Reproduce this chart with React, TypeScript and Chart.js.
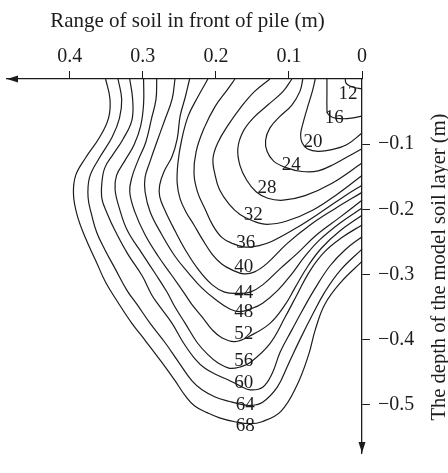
import React, { useEffect, useRef } from 'react';
import { Chart, registerables } from 'chart.js';

Chart.register(...registerables);

const FONT = '"Liberation Serif", "Times New Roman", serif';
const INK = '#1c1c1c';

// Axis ticks
const xTickValues = [0, 0.1, 0.2, 0.3, 0.4];
const xTickLabels = ['0', '0.1', '0.2', '0.3', '0.4'];
const yTickValues = [-0.1, -0.2, -0.3, -0.4, -0.5];
const yTickLabels = ['\u22120.1', '\u22120.2', '\u22120.3', '\u22120.4', '\u22120.5'];
const xAxisMax = 0.486;
const yAxisMin = -0.574;

const xTitle = 'Range of soil in front of pile (m)';
const yTitle = 'The depth of the model soil layer (m)';

// Contour levels
const contourLevels = [12, 16, 20, 24, 28, 32, 36, 40, 44, 48, 52, 56, 60, 64, 68];

// Contour lines (x = range in front of pile, y = depth), in metres
const x12 = [0.023, 0.022, 0.018, 0.011, 0];
const y12 = [0, -0.006, -0.010, -0.013, -0.015];

const x16 = [0.048, 0.048, 0.048, 0.047, 0.040, 0.027, 0.014, 0];
const y16 = [0, -0.023, -0.042, -0.053, -0.059, -0.061, -0.060, -0.057];

const x20 = [0.064, 0.068, 0.075, 0.081, 0.084, 0.082, 0.075, 0.060, 0.040, 0.021, 0];
const y20 = [0, -0.019, -0.045, -0.069, -0.085, -0.098, -0.107, -0.111, -0.108, -0.101, -0.083];

const x24 = [0.081, 0.085, 0.096, 0.112, 0.126, 0.132, 0.130, 0.121, 0.104, 0.082, 0.060, 0.037, 0.016, 0];
const y24 = [0, -0.019, -0.040, -0.057, -0.075, -0.094, -0.111, -0.126, -0.136, -0.142, -0.141, -0.130, -0.117, -0.107];

const x28 = [0.096, 0.108, 0.129, 0.149, 0.163, 0.170, 0.167, 0.158, 0.145, 0.129, 0.108, 0.078, 0.041, 0];
const y28 = [0, -0.019, -0.040, -0.060, -0.081, -0.107, -0.133, -0.155, -0.173, -0.183, -0.186, -0.179, -0.160, -0.129];

const x32 = [0.126, 0.147, 0.167, 0.184, 0.197, 0.204, 0.201, 0.195, 0.182, 0.167, 0.149, 0.130, 0.103, 0.067, 0.033, 0];
const y32 = [0, -0.019, -0.045, -0.072, -0.097, -0.122, -0.148, -0.170, -0.192, -0.208, -0.218, -0.223, -0.218, -0.201, -0.176, -0.148];

const x36 = [0.174, 0.184, 0.201, 0.216, 0.227, 0.230, 0.225, 0.215, 0.204, 0.192, 0.178, 0.160, 0.142, 0.123, 0.089, 0.053, 0.023, 0];
const y36 = [0, -0.016, -0.042, -0.075, -0.111, -0.145, -0.174, -0.199, -0.225, -0.243, -0.252, -0.258, -0.256, -0.249, -0.228, -0.202, -0.179, -0.163];

const x40 = [0.211, 0.225, 0.238, 0.247, 0.252, 0.253, 0.249, 0.241, 0.230, 0.218, 0.205, 0.192, 0.178, 0.162, 0.147, 0.130, 0.103, 0.071, 0.037, 0];
const y40 = [0, -0.028, -0.057, -0.094, -0.129, -0.160, -0.184, -0.204, -0.224, -0.247, -0.269, -0.284, -0.293, -0.299, -0.296, -0.283, -0.253, -0.224, -0.199, -0.174];

const x44 = [0.236, 0.242, 0.249, 0.253, 0.260, 0.271, 0.277, 0.277, 0.270, 0.256, 0.242, 0.225, 0.205, 0.188, 0.170, 0.153, 0.136, 0.112, 0.089, 0.062, 0.030, 0];
const y44 = [0, -0.028, -0.057, -0.092, -0.119, -0.142, -0.163, -0.180, -0.201, -0.233, -0.262, -0.291, -0.316, -0.327, -0.329, -0.327, -0.316, -0.291, -0.268, -0.239, -0.212, -0.186];

const x48 = [0.256, 0.260, 0.270, 0.281, 0.290, 0.297, 0.297, 0.290, 0.274, 0.256, 0.238, 0.219, 0.201, 0.181, 0.167, 0.153, 0.136, 0.115, 0.096, 0.078, 0.058, 0.030, 0];
const y48 = [0, -0.031, -0.063, -0.097, -0.126, -0.151, -0.173, -0.204, -0.239, -0.272, -0.297, -0.321, -0.338, -0.353, -0.357, -0.353, -0.344, -0.324, -0.299, -0.272, -0.247, -0.221, -0.198];

const x52 = [0.281, 0.282, 0.288, 0.296, 0.307, 0.315, 0.318, 0.311, 0.297, 0.279, 0.260, 0.242, 0.233, 0.219, 0.205, 0.192, 0.174, 0.153, 0.126, 0.105, 0.092, 0.074, 0.055, 0.030, 0];
const y52 = [0, -0.031, -0.060, -0.097, -0.126, -0.151, -0.173, -0.204, -0.239, -0.272, -0.302, -0.331, -0.346, -0.365, -0.385, -0.397, -0.403, -0.394, -0.375, -0.346, -0.321, -0.287, -0.259, -0.233, -0.209];

const x56 = [0.299, 0.299, 0.303, 0.312, 0.325, 0.336, 0.338, 0.332, 0.321, 0.301, 0.284, 0.267, 0.256, 0.242, 0.226, 0.211, 0.197, 0.181, 0.167, 0.153, 0.126, 0.105, 0.089, 0.071, 0.051, 0.027, 0];
const y56 = [0, -0.038, -0.072, -0.101, -0.126, -0.148, -0.170, -0.199, -0.233, -0.268, -0.297, -0.327, -0.350, -0.375, -0.404, -0.423, -0.436, -0.444, -0.442, -0.435, -0.406, -0.365, -0.331, -0.294, -0.265, -0.243, -0.224];

const x60 = [0.318, 0.314, 0.315, 0.327, 0.341, 0.352, 0.356, 0.356, 0.349, 0.338, 0.321, 0.301, 0.288, 0.279, 0.260, 0.245, 0.229, 0.215, 0.197, 0.181, 0.167, 0.153, 0.136, 0.123, 0.112, 0.096, 0.082, 0.064, 0.044, 0.023, 0];
const y60 = [0, -0.031, -0.063, -0.092, -0.116, -0.136, -0.158, -0.184, -0.206, -0.233, -0.268, -0.302, -0.331, -0.346, -0.375, -0.404, -0.429, -0.444, -0.455, -0.463, -0.471, -0.477, -0.473, -0.452, -0.419, -0.385, -0.356, -0.321, -0.287, -0.262, -0.242];

const x64 = [0.334, 0.329, 0.332, 0.342, 0.360, 0.373, 0.375, 0.370, 0.363, 0.352, 0.338, 0.322, 0.308, 0.290, 0.270, 0.252, 0.233, 0.219, 0.201, 0.181, 0.167, 0.153, 0.136, 0.116, 0.101, 0.085, 0.067, 0.051, 0.030, 0];
const y64 = [0, -0.031, -0.060, -0.089, -0.122, -0.151, -0.182, -0.209, -0.236, -0.262, -0.291, -0.324, -0.346, -0.375, -0.404, -0.433, -0.463, -0.477, -0.488, -0.495, -0.499, -0.501, -0.496, -0.473, -0.438, -0.400, -0.360, -0.327, -0.294, -0.261];

const x68 = [0.351, 0.345, 0.347, 0.359, 0.379, 0.392, 0.395, 0.390, 0.379, 0.364, 0.351, 0.334, 0.315, 0.297, 0.274, 0.256, 0.242, 0.229, 0.212, 0.195, 0.174, 0.153, 0.137, 0.111, 0.089, 0.073, 0.064, 0.051, 0.029, 0];
const y68 = [0, -0.031, -0.060, -0.089, -0.122, -0.148, -0.177, -0.209, -0.243, -0.280, -0.312, -0.343, -0.375, -0.401, -0.435, -0.463, -0.486, -0.502, -0.512, -0.520, -0.526, -0.529, -0.526, -0.510, -0.470, -0.423, -0.385, -0.346, -0.312, -0.280];

const contourX = [x12, x16, x20, x24, x28, x32, x36, x40, x44, x48, x52, x56, x60, x64, x68];
const contourY = [y12, y16, y20, y24, y28, y32, y36, y40, y44, y48, y52, y56, y60, y64, y68];

// Where each contour's value is written
const labelX = [0.019, 0.038, 0.067, 0.097, 0.130, 0.149, 0.159, 0.162, 0.162, 0.162, 0.162, 0.162, 0.162, 0.160, 0.160];
const labelY = [-0.023, -0.060, -0.097, -0.132, -0.167, -0.209, -0.252, -0.288, -0.328, -0.357, -0.392, -0.433, -0.467, -0.501, -0.533];

const decorPlugin = {
  id: 'decor',
  afterDraw(chart: any) {
    const { ctx, chartArea, scales } = chart;
    const xs = scales.x;
    const ys = scales.y;
    ctx.save();
    ctx.fillStyle = INK;
    // arrowheads
    ctx.beginPath();
    ctx.moveTo(chartArea.left, chartArea.top);
    ctx.lineTo(chartArea.left + 11, chartArea.top - 3.5);
    ctx.lineTo(chartArea.left + 11, chartArea.top + 3.5);
    ctx.closePath();
    ctx.fill();
    ctx.beginPath();
    ctx.moveTo(chartArea.right, chartArea.bottom);
    ctx.lineTo(chartArea.right - 3.5, chartArea.bottom - 11);
    ctx.lineTo(chartArea.right + 3.5, chartArea.bottom - 11);
    ctx.closePath();
    ctx.fill();

    // contour labels
    ctx.font = `19px ${FONT}`;
    ctx.textAlign = 'center';
    ctx.textBaseline = 'middle';
    contourLevels.forEach((lvl, i) => {
      ctx.fillText(String(lvl), xs.getPixelForValue(labelX[i]), ys.getPixelForValue(labelY[i]));
    });

    // titles
    ctx.textAlign = 'center';
    ctx.textBaseline = 'alphabetic';
    ctx.font = `21px ${FONT}`;
    ctx.fillText(xTitle, (chartArea.left + chartArea.right) / 2 + 3, 27);
    ctx.font = `20.5px ${FONT}`;
    ctx.translate(chart.width - 3, (chartArea.top + chartArea.bottom) / 2 + 1);
    ctx.rotate(-Math.PI / 2);
    ctx.fillText(yTitle, 0, 0);
    ctx.restore();
  },
};

export default function App() {
  const ref = useRef<HTMLCanvasElement | null>(null);
  useEffect(() => {
    const canvas = ref.current;
    if (!canvas) return;
    const datasets = contourLevels.map((lvl, i) => ({
      label: String(lvl),
      data: contourX[i].map((x, j) => ({ x, y: contourY[i][j] })),
      showLine: true,
      borderColor: INK,
      borderWidth: 1.2,
      pointRadius: 0,
      pointHoverRadius: 0,
      tension: 0.4,
      fill: false,
      clip: 4,
    }));
    const chart = new Chart(canvas, {
      type: 'scatter',
      data: { datasets },
      options: {
        animation: false,
        responsive: true,
        maintainAspectRatio: false,
        events: [],
        layout: { padding: { left: 7, right: 0, top: 0, bottom: 2 } },
        plugins: { legend: { display: false }, tooltip: { enabled: false }, title: { display: false } },
        scales: {
          x: {
            type: 'linear',
            position: 'top',
            reverse: true,
            min: 0,
            max: xAxisMax,
            grid: { drawOnChartArea: false, drawTicks: true, tickLength: 8, color: INK, lineWidth: 1 },
            border: { display: true, color: INK, width: 1.3 },
            ticks: {
              color: INK,
              font: { family: FONT, size: 20 },
              padding: 2,
              maxRotation: 0,
              autoSkip: false,
              callback: (_v: any, i: number) => xTickLabels[i],
            },
            afterBuildTicks: (s: any) => {
              s.ticks = xTickValues.map((v) => ({ value: v }));
            },
            afterFit: (s: any) => {
              s.height = 79;
            },
          },
          y: {
            type: 'linear',
            position: 'right',
            min: yAxisMin,
            max: 0,
            grid: { drawOnChartArea: false, drawTicks: true, tickLength: 8, color: INK, lineWidth: 1 },
            border: { display: true, color: INK, width: 1.3 },
            ticks: {
              color: INK,
              font: { family: FONT, size: 20 },
              padding: 8,
              autoSkip: false,
              callback: (_v: any, i: number) => yTickLabels[i],
            },
            afterBuildTicks: (s: any) => {
              s.ticks = yTickValues.map((v) => ({ value: v }));
            },
            afterFit: (s: any) => {
              s.width = 86;
            },
          },
        },
      },
      plugins: [decorPlugin],
    } as any);
    return () => chart.destroy();
  }, []);
  return (
    <div style={{ position: 'fixed', left: 0, top: 0, width: 448, height: 473, background: '#fff' }}>
      <canvas ref={ref} />
    </div>
  );
}
